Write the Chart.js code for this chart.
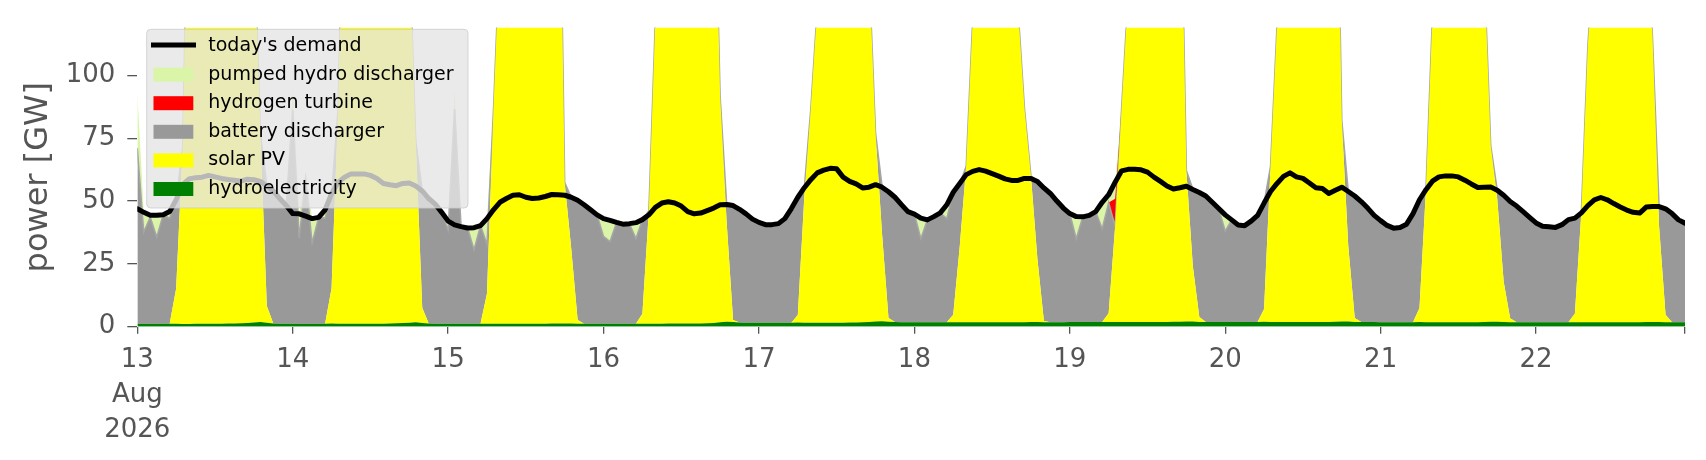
<!DOCTYPE html>
<html>
<head>
<meta charset="utf-8">
<title>power</title>
<script src="https://cdn.jsdelivr.net/npm/chart.js@4.4.1/dist/chart.umd.min.js"></script>
<style>
    html, body { margin: 0; padding: 0; background: #ffffff; }
    #wrap { width: 1706px; height: 460px; }
</style>
</head>
<body>
<div id="wrap"><canvas id="powerview" width="1706" height="460"></canvas></div>
<script>
// DATA - hourly, 13 Aug 2026 00:00 .. 22 Aug 23:00, one line per day

const dayTicks = [0, 24, 48, 72, 96, 120, 144, 168, 192, 216, 239];
const dayLabels = [["13", "Aug", "2026"], "14", "15", "16", "17", "18", "19", "20", "21", "22", ""];
const yTicks = [0, 25, 50, 75, 100];

const demand = [
    46.9, 45.5, 44.3, 44.3, 44.5, 45.8, 50.5, 56.5, 58.8, 59.3, 59.5, 60.2, 59.6, 59, 58.6, 58.3, 57.9, 58.7, 58.5, 57.8, 56, 54, 51, 48.2,
    45, 44.9, 44, 43, 43.5, 46.5, 53, 57.3, 59.5, 60.8, 60.8, 60.8, 60.2, 59, 57, 56.5, 56.1, 57, 57.2, 56, 54, 51, 48.8, 45.5,
    42, 40.5, 39.8, 39.3, 39.4, 40.2, 43, 46.5, 49.5, 51, 52.3, 52.5, 51.5, 51, 51.2, 51.8, 52.6, 52.5, 52.3, 51.5, 50.3, 48.5, 46.5, 44.5,
    43, 42.3, 41.5, 40.8, 41, 41.4, 42.6, 44.5, 47.5, 49.2, 49.7, 49.2, 48, 45.8, 44.9, 45.2, 46.2, 47.2, 48.5, 48.6, 48.2, 46.7, 44.9, 42.8,
    41.5, 40.6, 40.6, 41, 43, 47, 51.5, 55.3, 58.5, 61.2, 62.3, 63, 62.8, 59.5, 57.8, 56.8, 55.2, 55.5, 56.5, 55.5, 53.7, 51.5, 48.6, 45.8,
    44.8, 43.2, 42.5, 43.8, 45.3, 48.5, 53.5, 57, 60.5, 61.8, 62.5, 61.9, 60.9, 59.9, 58.8, 58.2, 58.2, 59, 59, 57.8, 55.2, 53, 50, 47.2,
    45, 43.8, 43.7, 44.3, 45.8, 49.5, 52.5, 57.5, 62, 62.6, 62.6, 62.4, 61.5, 59.5, 57.8, 56, 54.8, 55.3, 55.9, 54.6, 53.4, 52, 49.5, 47,
    44.5, 42.5, 40.5, 40.2, 42, 44.3, 49.2, 53.8, 57, 59.8, 61.2, 59.6, 59, 57.2, 55.3, 55, 53, 54.3, 55.5, 53.8, 52, 49.8, 47.2, 44.3,
    42.2, 40.3, 39.2, 39.5, 40.8, 45, 50.5, 54.5, 57.9, 59.6, 60, 60, 59.6, 58.3, 56.8, 55.4, 55.5, 55.6, 54.3, 52.3, 49.8, 48, 45.8, 43.5,
    41.3, 40, 39.8, 39.5, 40.6, 42.6, 43.2, 45.3, 48.2, 50.5, 51.4, 50.5, 49, 47.6, 46.4, 45.5, 45.2, 47.6, 47.8, 47.8, 46.9, 45, 42.5, 41.2,
];

const hydro = [
    1.1, 1.1, 1.1, 1.1, 1.2, 1.2, 1.2, 1.1, 1.1, 1.2, 1.2, 1.2, 1.2, 1.2, 1.3, 1.3, 1.4, 1.5, 1.7, 1.9, 1.6, 1.3, 1.2, 1.2,
    1.2, 1.1, 1.1, 1.1, 1.1, 1.2, 1.3, 1.2, 1.2, 1.2, 1.2, 1.2, 1.2, 1.2, 1.2, 1.3, 1.4, 1.5, 1.6, 1.8, 1.5, 1.3, 1.2, 1.2,
    1.2, 1.2, 1.2, 1.2, 1.2, 1.2, 1.2, 1.2, 1.2, 1.2, 1.2, 1.2, 1.2, 1.2, 1.2, 1.2, 1.3, 1.3, 1.3, 1.3, 1.2, 1.2, 1.2, 1.2,
    1.2, 1.2, 1.2, 1.2, 1.2, 1.2, 1.2, 1.2, 1.2, 1.2, 1.3, 1.3, 1.3, 1.3, 1.3, 1.3, 1.4, 1.5, 1.8, 2.0, 1.9, 1.7, 1.6, 1.6,
    1.6, 1.6, 1.6, 1.6, 1.6, 1.6, 1.7, 1.6, 1.6, 1.6, 1.6, 1.6, 1.6, 1.6, 1.7, 1.7, 1.8, 1.9, 2.1, 2.2, 2.0, 1.9, 1.8, 1.8,
    1.8, 1.8, 1.8, 1.8, 1.8, 1.8, 1.8, 1.8, 1.8, 1.8, 1.8, 1.8, 1.8, 1.8, 1.8, 1.8, 1.8, 1.8, 1.9, 1.9, 1.8, 1.8, 1.8, 1.8,
    1.9, 1.9, 1.9, 1.9, 1.9, 1.9, 1.9, 1.9, 1.9, 1.9, 1.9, 1.9, 1.9, 1.9, 1.9, 1.9, 2.0, 2.0, 2.1, 2.1, 1.9, 1.9, 1.9, 1.9,
    1.9, 1.9, 1.9, 1.9, 1.9, 1.9, 2.0, 1.9, 1.9, 1.9, 1.9, 1.9, 1.9, 1.9, 1.9, 1.9, 1.9, 2.0, 2.1, 2.1, 1.9, 1.9, 1.9, 1.9,
    1.8, 1.8, 1.8, 1.8, 1.8, 1.8, 1.9, 1.8, 1.8, 1.8, 1.8, 1.8, 1.8, 1.8, 1.8, 1.8, 1.9, 2.0, 2.0, 1.9, 1.8, 1.8, 1.8, 1.8,
    1.8, 1.8, 1.8, 1.8, 1.8, 1.8, 1.8, 1.8, 1.8, 1.8, 1.8, 1.8, 1.8, 1.8, 1.8, 1.8, 1.8, 1.9, 1.9, 1.9, 1.8, 1.8, 1.8, 1.8,
];

const solar = [
    0, 0, 0, 0, 0, 0, 14, 70, 200, 250, 280, 295, 300, 295, 280, 265, 255, 250, 160, 75, 6.6, 0, 0, 0,
    0, 0, 0, 0, 0, 0, 14, 85, 200, 250, 280, 290, 295, 290, 280, 260, 240, 230, 150, 72, 6, 0, 0, 0,
    0, 0, 0, 0, 0, 0, 12, 85, 150, 260, 285, 300, 305, 300, 285, 265, 245, 230, 56, 30, 1.5, 0, 0, 0,
    0, 0, 0, 0, 0, 0, 4, 45, 121, 250, 280, 295, 300, 295, 280, 260, 235, 200, 90, 40, 0.8, 0, 0, 0,
    0, 0, 0, 0, 0, 0, 3, 50, 85, 125, 230, 270, 285, 285, 270, 255, 250, 140, 75, 35, 1.5, 0, 0, 0,
    0, 0, 0, 0, 0, 0, 3, 30, 62, 120, 200, 240, 255, 260, 255, 240, 125, 85, 58, 25, 0.5, 0, 0, 0,
    0, 0, 0, 0, 0, 0, 3.5, 38, 85, 130, 220, 260, 280, 285, 275, 260, 240, 200, 60, 22, 2, 0, 0, 0,
    0, 0, 0, 0, 0, 0, 5, 62, 118, 230, 270, 290, 300, 300, 290, 275, 255, 230, 80, 30, 1.6, 0, 0, 0,
    0, 0, 0, 0, 0, 0, 5.5, 53, 122, 250, 280, 290, 290, 280, 260, 230, 140, 70, 49, 16, 1.6, 0, 0, 0,
    0, 0, 0, 0, 0, 0, 3.5, 44, 110, 150, 230, 270, 285, 280, 265, 240, 210, 170, 112, 38, 3, 0, 0, 0,
];

const battery = [
    70, 36.6, 42.5, 34.6, 43.3, 42, 35.3, 0, 0, 0, 0, 0, 0, 0, 0, 0, 0, 0, 0, 0, 48.2, 52.8, 49.8, 47,
    85, 34.1, 58, 32.2, 42.3, 42, 37.8, 0, 0, 0, 0, 0, 0, 0, 0, 0, 0, 0, 0, 0, 46.8, 49.8, 47.6, 44.3,
    37.2, 85.4, 38.6, 38.1, 29.4, 39, 19.6, 0, 0, 0, 0, 0, 0, 0, 0, 0, 0, 0, 0, 20.3, 47.6, 47.3, 45.3, 43.3,
    34.7, 32.7, 40.2, 39.5, 39.7, 33.9, 37.3, 0, 0, 0, 0, 0, 0, 0, 0, 0, 0, 0, 0, 7.3, 46.1, 45.4, 43.6, 41.5,
    39.9, 39, 39, 39.4, 41.4, 45.4, 46.9, 3.7, 0, 0, 0, 0, 0, 0, 0, 0, 0, 0, 0, 18.9, 50.6, 49.9, 47, 44.2,
    43, 33.2, 40.7, 42, 43.5, 41.2, 48.7, 25.2, 0, 0, 0, 0, 0, 0, 0, 0, 0, 0, 0, 31, 52.9, 51.2, 48.2, 45.4,
    43.1, 33.1, 41.8, 42.4, 43.9, 37.1, 44, 0, 0, 0, 0, 0, 0, 0, 0, 0, 0, 0, 0, 30.7, 49.5, 50.1, 47.6, 45.1,
    36.1, 40.6, 38.6, 38.3, 40.1, 42.4, 42.3, 0, 0, 0, 0, 0, 0, 0, 0, 0, 0, 0, 0, 21.9, 48.5, 47.9, 45.3, 42.4,
    40.4, 38.5, 37.4, 37.7, 39, 43.2, 43.2, 0, 0, 0, 0, 0, 0, 0, 0, 0, 0, 0, 3.5, 34.5, 46.4, 46.2, 44, 41.7,
    39.5, 38.2, 38, 37.7, 38.8, 40.8, 37.9, 0, 0, 0, 0, 0, 0, 0, 0, 0, 0, 0, 0, 8, 42.1, 43.2, 40.7, 39.4,
];

const hydrogen = [
    0, 0, 0, 0, 0, 0, 0, 0, 0, 0, 0, 0, 0, 0, 0, 0, 0, 0, 0, 0, 0, 0, 0, 0,
    0, 0, 0, 0, 0, 0, 0, 0, 0, 0, 0, 0, 0, 0, 0, 0, 0, 0, 0, 0, 0, 0, 0, 0,
    0, 0, 0, 0, 0, 0, 0, 0, 0, 0, 0, 0, 0, 0, 0, 0, 0, 0, 0, 0, 0, 0, 0, 0,
    0, 0, 0, 0, 0, 0, 0, 0, 0, 0, 0, 0, 0, 0, 0, 0, 0, 0, 0, 0, 0, 0, 0, 0,
    0, 0, 0, 0, 0, 0, 0, 0, 0, 0, 0, 0, 0, 0, 0, 0, 0, 0, 0, 0, 0, 0, 0, 0,
    0, 0, 0, 0, 0, 0, 0, 0, 0, 0, 0, 0, 0, 0, 0, 0, 0, 0, 0, 0, 0, 0, 0, 0,
    0, 0, 0, 0, 0, 0, 0, 11, 0, 0, 0, 0, 0, 0, 0, 0, 0, 0, 0, 0, 0, 0, 0, 0,
    0, 0, 0, 0, 0, 0, 0, 0, 0, 0, 0, 0, 0, 0, 0, 0, 0, 0, 0, 0, 0, 0, 0, 0,
    0, 0, 0, 0, 0, 0, 0, 0, 0, 0, 0, 0, 0, 0, 0, 0, 0, 0, 0, 0, 0, 0, 0, 0,
    0, 0, 0, 0, 0, 0, 0, 0, 0, 0, 0, 0, 0, 0, 0, 0, 0, 0, 0, 0, 0, 0, 0, 0,
];

const pumpedHydro = [
    22, 7.7, 0.6, 8.5, 0, 2.6, 0, 0, 0, 0, 0, 0, 0, 0, 0, 0, 0, 0, 0, 0, 0, 0, 0, 0,
    8.8, 9.6, 1.8, 9.6, 0, 3.3, 0, 0, 0, 0, 0, 0, 0, 0, 0, 0, 0, 0, 0, 0, 0, 0, 0, 0,
    3.6, 7.8, 0, 0, 8.8, 0, 10.2, 0, 0, 0, 0, 0, 0, 0, 0, 0, 0, 0, 0, 0, 0, 0, 0, 0,
    7, 8.3, 0, 0, 0, 6.2, 0, 0, 0, 0, 0, 0, 0, 0, 0, 0, 0, 0, 0, 0, 0, 0, 0, 0,
    0, 0, 0, 0, 0, 0, 0, 0, 0, 0, 0, 0, 0, 0, 0, 0, 0, 0, 0, 0, 0, 0, 0, 0,
    0, 8.2, 0, 0, 0, 5.5, 0, 0, 0, 0, 0, 0, 0, 0, 0, 0, 0, 0, 0, 0, 0, 0, 0, 0,
    0, 8.8, 0, 0, 0, 10.5, 3.1, 6.6, 0, 0, 0, 0, 0, 0, 0, 0, 0, 0, 0, 0, 0, 0, 0, 0,
    6.5, 0, 0, 0, 0, 0, 0, 0, 0, 0, 0, 0, 0, 0, 0, 0, 0, 0, 0, 0, 0, 0, 0, 0,
    0, 0, 0, 0, 0, 0, 0, 0, 0, 0, 0, 0, 0, 0, 0, 0, 0, 0, 0, 0, 0, 0, 0, 0,
    0, 0, 0, 0, 0, 0, 0, 0, 0, 0, 0, 0, 0, 0, 0, 0, 0, 0, 0, 0, 0, 0, 0, 0,
];

// hour index -> {x, y}
const pts = (arr) => arr.map((v, i) => ({ x: i, y: v }));

const NONE = "rgba(0,0,0,0)";
const FONT = "DejaVu Sans";

// legend drawn inside the plot, over everything (like matplotlib)
const legendOrder = [5, 4, 3, 2, 1, 0];

const boxLegend = {
    id: "boxLegend",
    afterDraw(chart) {
        const c = chart.ctx;
        const x = 146.7, y = 29.3, w = 321.3, h = 178.7, r = 4;
        c.save();
        c.beginPath();
        c.moveTo(x + r, y);
        c.arcTo(x + w, y, x + w, y + h, r);
        c.arcTo(x + w, y + h, x, y + h, r);
        c.arcTo(x, y + h, x, y, r);
        c.arcTo(x, y, x + w, y, r);
        c.closePath();
        c.fillStyle = "rgba(229,229,229,0.8)";
        c.fill();
        c.strokeStyle = "rgba(204,204,204,0.8)";
        c.lineWidth = 1;
        c.stroke();

        c.font = "19px '" + FONT + "'";
        c.textBaseline = "middle";
        c.textAlign = "left";
        legendOrder.forEach((idx, row) => {
            const ds = chart.data.datasets[idx];
            const cy = 46 + row * 28.6;
            if (idx === 5) {
                c.strokeStyle = ds.borderColor;
                c.lineWidth = 5;
                c.beginPath();
                c.moveTo(151, cy - 1);
                c.lineTo(196, cy - 1);
                c.stroke();
            } else {
                c.fillStyle = ds.backgroundColor;
                c.fillRect(153.5, cy - 7, 39.8, 14);
            }
            c.fillStyle = "#000000";
            c.fillText(ds.label, 208.3, cy);
        });
        c.restore();
    },
};

const POWER = document.getElementById("powerview");

// stacked areas keep the same draw order so they stack by index (hydro at the bottom)
new Chart(POWER, {
    type: "line",
    data: {
        datasets: [
            {
                label: "hydroelectricity",
                data: pts(hydro),
                backgroundColor: "#008000",
                borderColor: NONE,
                borderWidth: 0,
                fill: "origin",
            },
            {
                label: "solar PV",
                data: pts(solar),
                backgroundColor: "#ffff00",
                borderColor: NONE,
                borderWidth: 0,
                fill: "-1",
            },
            {
                label: "battery discharger",
                data: pts(battery),
                backgroundColor: "#999999",
                borderColor: "#a6a6a6",
                borderWidth: 1.5,
                fill: "-1",
            },
            {
                label: "hydrogen turbine",
                data: pts(hydrogen),
                backgroundColor: "#ff0000",
                borderColor: NONE,
                borderWidth: 0,
                fill: "-1",
            },
            {
                label: "pumped hydro discharger",
                data: pts(pumpedHydro),
                backgroundColor: "#daf5a8",
                borderColor: NONE,
                borderWidth: 0,
                fill: "-1",
            },
            {
                label: "today's demand",
                data: pts(demand),
                borderColor: "#000000",
                borderWidth: 5,
                borderJoinStyle: "round",
                borderCapStyle: "round",
                fill: false,
                stack: "demand",
                order: -1,
            },
        ],
    },
    options: {
        responsive: false,
        animation: false,
        devicePixelRatio: 1,
        elements: {
            point: { radius: 0 },
            line: { tension: 0 },
        },
        layout: {
            padding: { left: 0, right: 21, top: 22, bottom: 0 },
        },
        plugins: {
            legend: { display: false },
            tooltip: { enabled: false },
        },
        scales: {
            x: {
                type: "linear",
                min: 0,
                max: 239,
                afterBuildTicks: (s) => { s.ticks = dayTicks.map((v) => ({ value: v })); },
                afterFit: (s) => { s.height = 133.3; },
                border: { display: false },
                grid: {
                    drawOnChartArea: false,
                    tickLength: 7,
                    color: "#555555",
                    lineWidth: 1.3,
                },
                ticks: {
                    autoSkip: false,
                    maxRotation: 0,
                    padding: 9,
                    color: "#555555",
                    font: { family: FONT, size: 26, lineHeight: 1.35 },
                    callback: (v, i) => dayLabels[i],
                },
            },
            y: {
                stacked: true,
                min: 0,
                max: 119,
                afterBuildTicks: (s) => { s.ticks = yTicks.map((v) => ({ value: v })); },
                afterFit: (s) => { s.width = 137.3; },
                border: { display: false },
                grid: {
                    drawOnChartArea: false,
                    tickLength: 10,
                    color: "#555555",
                    lineWidth: 1.3,
                },
                ticks: {
                    padding: 12,
                    color: "#555555",
                    font: { family: FONT, size: 26 },
                },
                title: {
                    display: true,
                    text: "power [GW]",
                    color: "#555555",
                    font: { family: FONT, size: 32 },
                    padding: { top: 19, bottom: 0 },
                },
            },
        },
    },
    plugins: [boxLegend],
});
</script>
</body>
</html>
